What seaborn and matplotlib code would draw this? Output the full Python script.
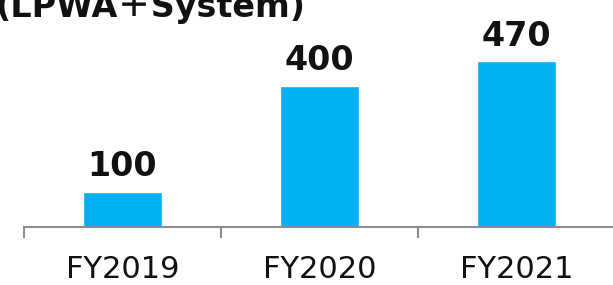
import matplotlib
matplotlib.use("Agg")
import matplotlib.pyplot as plt
import seaborn as sns
import pandas as pd

categories = ["FY2019", "FY2020", "FY2021"]
values = [100, 400, 470]
title = "(LPWA＋System)"

sns.set_theme(style="white")
plt.rcParams['font.family'] = ['DejaVu Sans', 'Noto Sans CJK JP']

W, H = 613, 285
fig = plt.figure(figsize=(W / 100, H / 100), dpi=100)
ax = fig.add_axes([24 / W, (H - 227) / H, (615 - 24) / W, 227 / H])

df = pd.DataFrame({"cat": categories, "val": values})
sns.barplot(data=df, x="cat", y="val", color="#00B0F0", saturation=1, width=0.4, ax=ax)

ax.set_xlim(-0.5, 2.5)
ax.set_ylim(0, 643)
for c in ax.containers:
    ax.bar_label(c, fmt="%d", padding=6, fontsize=24, fontweight="bold", color="#111111")

for s in ["top", "right", "left"]:
    ax.spines[s].set_visible(False)
ax.spines["bottom"].set_color("#8c8c8c")
ax.spines["bottom"].set_linewidth(1.5)
ax.set_yticks([])
ax.set_xlabel("")
ax.set_ylabel("")
ax.set_xticks([-0.5, 0.5, 1.5], minor=False, labels=["", "", ""])
ax.tick_params(axis="x", which="major", direction="out", length=8, width=1.5, color="#8c8c8c", bottom=True)
ax.set_xticks([0, 1, 2], labels=categories, minor=True)
ax.tick_params(axis="x", which="minor", length=0, pad=20, labelsize=22, labelcolor="#111111")

fig.text(-5 / W, (H - 17) / H, title, fontsize=24, fontweight="bold", color="#111111", ha="left", va="baseline")

fig.savefig("out.png", dpi=100)
